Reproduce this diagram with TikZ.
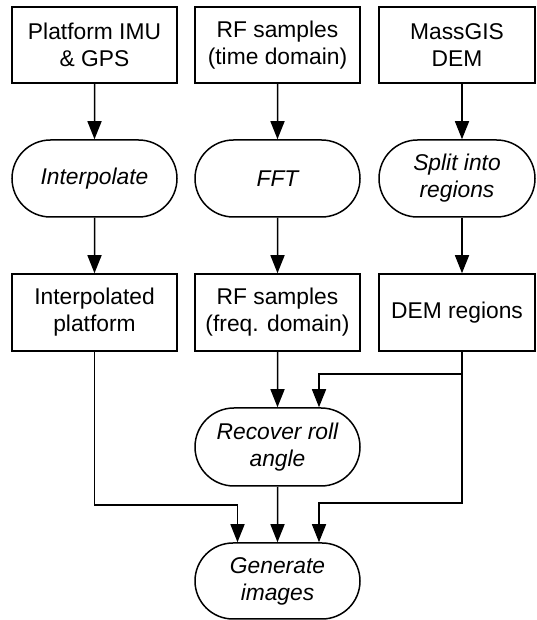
\documentclass[tikz,border=0pt]{standalone}
\usepackage{fontspec}
\setmainfont{Liberation Sans}
\usetikzlibrary{shapes.misc,arrows.meta}
\begin{document}
\begin{tikzpicture}[x=1pt,y=1pt,
  every node/.style={font=\fontsize{22.8}{27}\selectfont, align=center, inner sep=0pt, line width=1.5pt},
  databox/.style={draw, rectangle, minimum width=165pt, minimum height=76pt},
  procbox/.style={draw, rounded rectangle, minimum width=165pt, minimum height=77pt, font=\fontsize{22.8}{27}\selectfont\itshape},
  arr/.style={line width=1.5pt, -{Triangle[width=14pt,length=18pt]}},
  ln/.style={line width=1.5pt}]
\useasboundingbox (0,0) rectangle (536,620);
% row 1
\node[databox] (b1) at (94.5,575) {Platform IMU\\\& GPS};
\node[databox] (b2) at (277.5,575) {RF samples\\(time domain)};
\node[databox, minimum width=156pt] (b3) at (457,575) {MassGIS\\DEM};
% row 2
\node[procbox] (e1) at (94.5,441.5) {Interpolate};
\node[procbox] (e2) at (277.5,441.5) {FFT};
\node[procbox, minimum width=156pt] (e3) at (457,441.5) {Split into\\regions};
% row 3
\node[databox, minimum height=77pt] (r1) at (94.5,307.5) {Interpolated\\platform};
\node[databox, minimum height=77pt] (r2) at (277.5,307.5) {RF samples\\(freq. domain)};
\node[databox, minimum width=156pt, minimum height=77pt] (r3) at (457,307.5) {DEM regions};
% lower
\node[procbox, minimum height=78pt] (rec) at (277.5,173) {Recover roll\\angle};
\node[procbox, minimum height=76pt] (gen) at (277.5,39) {Generate\\images};
% connectors
\draw[arr] (b1) -- (e1);
\draw[arr] (e1) -- (r1);
\draw[arr] (b2) -- (e2);
\draw[arr] (e2) -- (r2);
\coordinate (t3) at ([xshift=5pt]b3.south);
\coordinate (m3) at ([xshift=5pt]e3.north);
\coordinate (m3b) at ([xshift=5pt]e3.south);
\coordinate (u3) at ([xshift=5pt]r3.north);
\coordinate (d3) at ([xshift=5pt]r3.south);
\draw[arr] (t3) -- (m3);
\draw[arr] (m3b) -- (u3);
\draw[arr] (r2) -- (rec);
\draw[arr] (rec) -- (gen);
\coordinate (j1) at (237.5,115);
\draw[arr] (r1.south) |- (j1) -- (j1 |- gen.north);
\coordinate (c1) at (319,117);
\coordinate (c2) at (319,246);
\draw[arr] (d3) |- (c1) -- (c1 |- gen.north);
\draw[arr] (d3 |- c2) -- (c2) -- (c2 |- rec.north);
\end{tikzpicture}
\end{document}
